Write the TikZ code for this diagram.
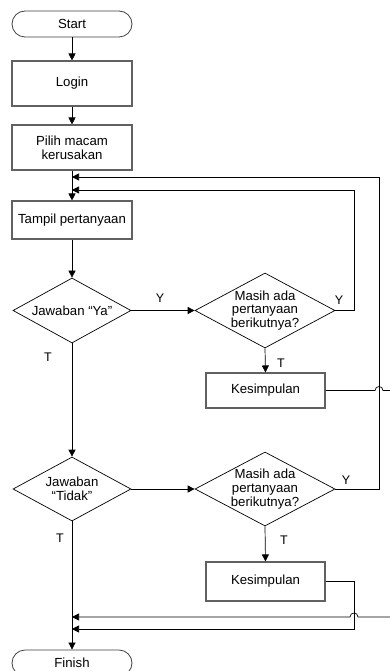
\documentclass[tikz,border=0pt]{standalone}
\usepackage{fontspec}
\setmainfont{Liberation Sans}
\usetikzlibrary{shapes.geometric,arrows.meta}
\begin{document}
\begin{tikzpicture}[x=1pt,y=-1pt,
  every node/.style={font=\fontsize{13.2}{13.8}\selectfont, inner sep=0pt, align=center},
  procbox/.style={rectangle, draw=black!62, line width=1.1pt, minimum width=120pt},
  termbox/.style={rectangle, draw=black!75, line width=0.8pt, rounded corners=13pt,
                  minimum width=120pt, minimum height=26pt},
  decbox/.style={diamond, draw=black, line width=0.7pt},
  flow/.style={draw=black, line width=0.7pt},
  arr/.style={flow, -{Triangle[length=7pt,width=7pt]}},
  lbl/.style={font=\fontsize{12.5}{13}\selectfont}
]
\useasboundingbox[fill=white] (0,0) rectangle (390,671);

% main column
\node[termbox] (start) at (72,24) {Start};
\node[procbox, minimum height=45pt] (login) at (72,83.5) {Login};
\node[procbox, minimum height=45pt] (pilih) at (72,147.5) {Pilih macam\\kerusakan};
\node[procbox, minimum height=38pt] (tampil) at (72,220) {Tampil pertanyaan};
\node[decbox, minimum width=118pt, minimum height=65pt] (ya) at (72,310.5) {};
\node (yatxt) at (ya) {Jawaban “Ya”};
\node[decbox, minimum width=118pt, minimum height=64pt] (tidak) at (72,489) {};
\node (tidaktxt) at (tidak) {Jawaban\\“Tidak”};
\node[termbox] (finish) at (72,663) {Finish};

% right column
\node[decbox, minimum width=140pt, minimum height=75pt] (m1) at (265,310.5) {};
\node (m1txt) at (m1) {Masih ada\\pertanyaan\\berikutnya?};
\node[procbox, minimum width=119pt, minimum height=35pt] (k1) at (265.5,390.5) {Kesimpulan};
\node[decbox, minimum width=140pt, minimum height=74pt] (m2) at (265,489) {};
\node (m2txt) at (m2) {Masih ada\\pertanyaan\\berikutnya?};
\node[procbox, minimum width=119pt, minimum height=39pt] (k2) at (265.5,581.5) {Kesimpulan};

% junction points on the main line and loop corners
\coordinate (j2) at (72,177);
\coordinate (j1) at (72,190);
\coordinate (j3) at (72,617);
\coordinate (j4) at (72,629);
\coordinate (c1) at (354,310.5);
\coordinate (c2) at (379,489);
\coordinate (c3) at (354,629);
\coordinate (e1) at (390,390.5);
\coordinate (e2) at (390,617);

% straight flow
\draw[arr] (start) -- (login);
\draw[arr] (login) -- (pilih);
\draw[arr] (pilih) -- (tampil);
\draw[arr] (tampil) -- (ya);
\draw[arr] (ya.east) -- (m1.west);
\draw[arr] (ya.south) -- (tidak.north);
\draw[arr] (m1.south) -- (k1.north);
\draw[arr] (tidak.east) -- (m2.west);
\draw[arr] (tidak.south) -- (finish.north);
\draw[arr] (m2.south) -- (k2.north);

% loops back to the question step
\draw[arr] (m1.east) -- (c1) |- (j1);
\draw[arr] (m2.east) -- (c2) |- (j2);

% outputs of the conclusions, with line hops
\draw[flow] (k1.east) -- (375,390.5) .. controls (375,385.2) and (383,385.2) .. (383,390.5) -- (e1);
\draw[arr] (k2.east) -| (c3) -- (j4);
\draw[arr] (e2) -- (358,617) .. controls (358,611.7) and (350,611.7) .. (350,617) -- (j3);

% branch labels
\node[lbl] (ly1) at (160,298.5) {Y};
\node[lbl] (ly2) at (339,300) {Y};
\node[lbl] (ly3) at (346,480) {Y};
\node[lbl] (lt1) at (48,357) {T};
\node[lbl] (lt2) at (281,363) {T};
\node[lbl] (lt3) at (60,538) {T};
\node[lbl] (lt4) at (284,540) {T};
\end{tikzpicture}
\end{document}
